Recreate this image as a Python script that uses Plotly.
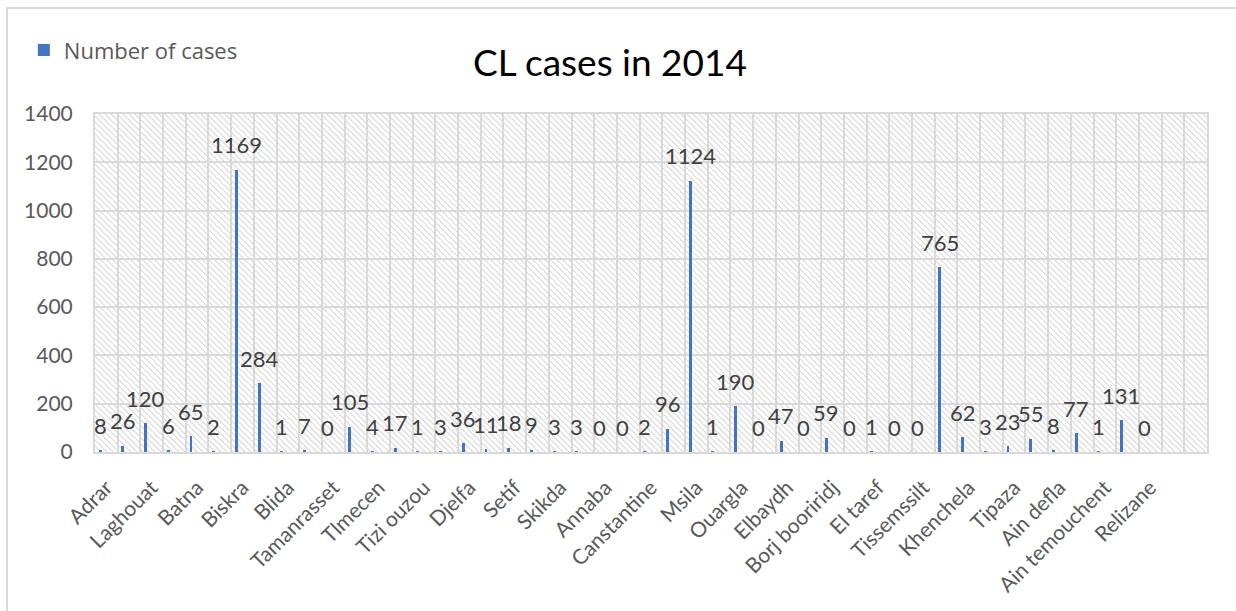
import base64
import plotly.graph_objects as go

# Cutaneous leishmaniasis cases per province, 2014
provinces_shown = [
    "Adrar", "Laghouat", "Batna", "Biskra", "Blida", "Tamanrasset",
    "Tlmecen", "Tizi ouzou", "Djelfa", "Setif", "Skikda", "Annaba",
    "Canstantine", "Msila", "Ouargla", "Elbaydh", "Borj booriridj",
    "El taref", "Tissemssilt", "Khenchela", "Tipaza", "Ain defla",
    "Ain temouchent", "Relizane",
]
cases = [
    8, 26, 120, 6, 65, 2, 1169, 284, 1, 7, 0, 105,
    4, 17, 1, 3, 36, 11, 18, 9, 3, 3, 0, 0,
    2, 96, 1124, 1, 190, 0, 47, 0, 59, 0, 1, 0,
    0, 765, 62, 3, 23, 55, 8, 77, 1, 131, 0,
]
n_slots = 49          # category slots on the axis (last two are empty)
y_ticks = [0, 200, 400, 600, 800, 1000, 1200, 1400]

BAR_COLOR = "#4472C4"
GRID = "#d9d9d9"
TEXT = "#595959"
FONT = "Lato"

x_pos = [i - 0.27 for i in range(len(cases))]
label_pos = list(range(0, 2 * len(provinces_shown), 2))

fig = go.Figure()
fig.add_trace(go.Bar(
    x=x_pos, y=cases, width=0.13,
    name="Number of cases",
    marker=dict(color=BAR_COLOR, line=dict(width=0)),
))

# value labels sit a little above each bar
for xv, v in zip(x_pos, cases):
    fig.add_annotation(x=xv, y=v, text=str(v), showarrow=False,
                       yanchor="middle", xanchor="center", yshift=25,
                       font=dict(family=FONT, size=22, color="#404040"))

# diagonal hatch for the plot area background
W, H, step = 1112, 338, 6
lines = "".join(
    f'<line x1="{x}" y1="0" x2="{x + H}" y2="{H}"/>'
    for x in range(-H, W + step, step)
)
svg = (f'<svg xmlns="http://www.w3.org/2000/svg" width="{W}" height="{H}">'
       f'<rect width="{W}" height="{H}" fill="white"/>'
       f'<g stroke="#d9d9d9" stroke-width="1.1">{lines}</g></svg>')
src = "data:image/svg+xml;base64," + base64.b64encode(svg.encode()).decode()
fig.add_layout_image(dict(
    source=src, xref="x", yref="y", x=-0.5, y=y_ticks[-1],
    sizex=n_slots, sizey=y_ticks[-1], xanchor="left", yanchor="top",
    sizing="stretch", layer="below",
))

# outer chart frame
fig.add_shape(type="rect", xref="paper", yref="paper",
              x0=-0.0791, x1=1.05, y0=-0.6, y1=1.3136,
              line=dict(color=GRID, width=2), fillcolor="rgba(0,0,0,0)")

fig.update_layout(
    width=1236, height=611,
    margin=dict(l=95, r=29, t=114, b=159, autoexpand=False),
    paper_bgcolor="white", plot_bgcolor="white",
    font=dict(family=FONT, color=TEXT),
    title=dict(text="CL cases in 2014", x=0.4935, xref="container",
               y=0.897, yref="container", xanchor="center", yanchor="middle",
               font=dict(family=FONT, size=37, color="black")),
    showlegend=True,
    legend=dict(x=-0.064, y=1.189, xanchor="left", yanchor="middle",
                font=dict(family="Open Sans", size=22, color=TEXT),
                bgcolor="rgba(0,0,0,0)"),
    bargap=0,
)
fig.update_xaxes(
    range=[-0.5, n_slots - 0.5], tickmode="array", automargin=False,
    tickvals=label_pos, ticktext=provinces_shown, tickangle=-45,
    tickfont=dict(family=FONT, size=21, color=TEXT),
    showgrid=False, zeroline=False, showline=True, mirror=True,
    linecolor=GRID, linewidth=2, ticks="", ticklabelstandoff=13,
    minor=dict(tickmode="linear", tick0=-0.5, dtick=1, showgrid=True,
               gridcolor=GRID, gridwidth=2, ticks=""),
)
fig.update_yaxes(
    range=[0, y_ticks[-1]], tickmode="array", tickvals=y_ticks,
    automargin=False,
    tickfont=dict(family=FONT, size=21, color=TEXT),
    showgrid=True, gridcolor=GRID, gridwidth=2,
    zeroline=False, showline=True, linecolor=GRID, linewidth=2,
    mirror=True, ticks="", ticklabelstandoff=16,
)

fig.write_html("out.html")
